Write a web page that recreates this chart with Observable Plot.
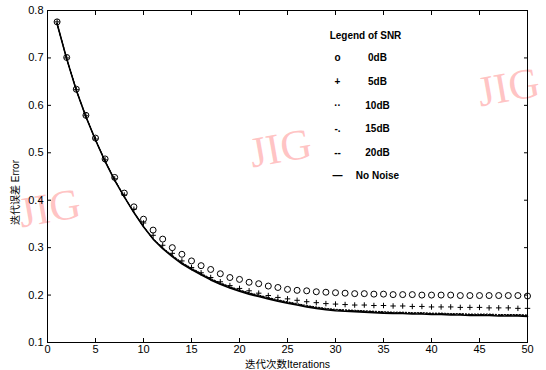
<!DOCTYPE html>
<html><head><meta charset="utf-8">
<script src="https://cdn.jsdelivr.net/npm/d3@7"></script>
<script src="https://cdn.jsdelivr.net/npm/@observablehq/plot@0.6"></script>
<style>body{margin:0;background:#fff}</style>
</head><body><div id="chart"></div>
<script>
const iterations = [1,2,3,4,5,6,7,8,9,10,11,12,13,14,15,16,17,18,19,20,21,22,23,24,25,26,27,28,29,30,31,32,33,34,35,36,37,38,39,40,41,42,43,44,45,46,47,48,49,50];
const snr0dB = [0.776,0.701,0.634,0.579,0.531,0.487,0.448,0.415,0.386,0.360,0.337,0.318,0.300,0.286,0.272,0.262,0.254,0.245,0.237,0.233,0.227,0.224,0.219,0.216,0.212,0.210,0.209,0.207,0.206,0.205,0.204,0.203,0.203,0.202,0.202,0.201,0.201,0.201,0.200,0.200,0.200,0.200,0.199,0.199,0.199,0.199,0.199,0.199,0.199,0.198];
const snr5dB = [0.776,0.700,0.633,0.578,0.529,0.485,0.445,0.411,0.381,0.352,0.326,0.305,0.288,0.272,0.258,0.247,0.237,0.228,0.220,0.214,0.209,0.204,0.199,0.195,0.192,0.189,0.186,0.184,0.182,0.181,0.180,0.179,0.179,0.178,0.178,0.177,0.177,0.176,0.176,0.175,0.175,0.175,0.174,0.174,0.174,0.173,0.173,0.173,0.172,0.172];
const snr10dB = [0.773,0.699,0.633,0.577,0.528,0.483,0.443,0.408,0.375,0.345,0.319,0.300,0.284,0.269,0.257,0.246,0.235,0.226,0.218,0.211,0.205,0.200,0.195,0.190,0.186,0.182,0.178,0.175,0.172,0.170,0.169,0.168,0.167,0.166,0.165,0.164,0.164,0.163,0.163,0.162,0.162,0.161,0.161,0.160,0.160,0.160,0.159,0.159,0.159,0.158];
const snr15dB = [0.772,0.698,0.632,0.576,0.527,0.482,0.443,0.407,0.374,0.344,0.318,0.299,0.283,0.268,0.256,0.245,0.234,0.225,0.217,0.210,0.204,0.199,0.194,0.189,0.185,0.181,0.177,0.174,0.171,0.169,0.168,0.167,0.166,0.165,0.164,0.163,0.163,0.162,0.162,0.161,0.161,0.160,0.160,0.159,0.159,0.159,0.158,0.158,0.158,0.157];
const snr20dB = [0.772,0.698,0.632,0.576,0.527,0.482,0.442,0.407,0.374,0.344,0.318,0.298,0.282,0.267,0.255,0.244,0.233,0.224,0.216,0.209,0.203,0.198,0.193,0.188,0.184,0.180,0.176,0.173,0.170,0.168,0.167,0.166,0.165,0.164,0.163,0.162,0.162,0.161,0.161,0.160,0.160,0.159,0.159,0.158,0.158,0.158,0.157,0.157,0.157,0.156];
const noNoise = [0.772,0.698,0.632,0.576,0.527,0.482,0.442,0.407,0.374,0.344,0.318,0.298,0.281,0.266,0.254,0.243,0.232,0.223,0.215,0.208,0.202,0.197,0.192,0.187,0.183,0.179,0.175,0.172,0.169,0.167,0.166,0.165,0.164,0.163,0.162,0.161,0.161,0.160,0.160,0.159,0.159,0.158,0.158,0.157,0.157,0.157,0.156,0.156,0.156,0.155];
const xTicks = [0,5,10,15,20,25,30,35,40,45,50];
const yTicks = [0.1,0.2,0.3,0.4,0.5,0.6,0.7,0.8];
const legendTitle = "Legend of SNR";
const legendSymbols = ["o","+","··","-.","--","—"];
const legendLabels = ["0dB","5dB","10dB","15dB","20dB","No Noise"];
const xLabel = "迭代次数Iterations";
const yLabel = "迭代误差 Error";
const watermark = "JIG";

const rows = vals => iterations.map((x, i) => ({x, y: vals[i]}));
const font = "'Liberation Sans', Arial, 'Noto Sans CJK SC', sans-serif";

const wm = [[233,138],[461,77],[2,198]].map(([dx,dy]) =>
  Plot.text([watermark], {frameAnchor:"top-left", dx, dy, fontSize:43, fontFamily:"'Liberation Serif', serif",
    fill:"#ff9c9c", fillOpacity:0.6, rotate:-10, textAnchor:"middle", lineAnchor:"middle"}));

const legendRowsDy = [47,71,95,118,142,165];
const legendMarks = [
  Plot.text([legendTitle], {frameAnchor:"top-left", dx:318, dy:25, fontSize:10, fontWeight:"bold", textAnchor:"middle", lineAnchor:"middle"}),
  ...legendSymbols.map((s,i) => Plot.text([s], {frameAnchor:"top-left", dx:290, dy:legendRowsDy[i], fontSize:10, fontWeight:"bold", textAnchor:"middle", lineAnchor:"middle"})),
  ...legendLabels.map((s,i) => Plot.text([s], {frameAnchor:"top-left", dx:330, dy:legendRowsDy[i], fontSize:10, fontWeight:"bold", textAnchor:"middle", lineAnchor:"middle"}))
];

const chart = Plot.plot({
  width:546, height:370, marginLeft:47, marginRight:19, marginTop:10, marginBottom:28,
  x:{domain:[0,50]}, y:{domain:[0.1,0.8]},
  style:{fontFamily:font, fontSize:"11px", color:"black", background:"white"},
  marks:[
    ...wm,
    Plot.frame({stroke:"black", strokeWidth:1}),
    Plot.axisX({anchor:"bottom", ticks:xTicks, tickSize:-4, tickPadding:7, label:null, tickFormat:d => String(d), fontSize:11}),
    Plot.axisX({anchor:"top", ticks:xTicks, tickSize:-4, tickFormat:() => "", label:null}),
    Plot.axisY({anchor:"left", ticks:yTicks, tickSize:-4, tickPadding:8, label:null, tickFormat:d => d.toFixed(1), fontSize:11}),
    Plot.axisY({anchor:"right", ticks:yTicks, tickSize:-4, tickFormat:() => "", label:null}),
    Plot.line(rows(snr10dB), {x:"x", y:"y", stroke:"black", strokeWidth:1, strokeDasharray:"1,2"}),
    Plot.line(rows(snr15dB), {x:"x", y:"y", stroke:"black", strokeWidth:1, strokeDasharray:"5,2,1,2"}),
    Plot.line(rows(snr20dB), {x:"x", y:"y", stroke:"black", strokeWidth:1, strokeDasharray:"5,3"}),
    Plot.line(rows(noNoise), {x:"x", y:"y", stroke:"black", strokeWidth:1.6}),
    Plot.dot(rows(snr0dB), {x:"x", y:"y", symbol:"circle", r:3, stroke:"black", strokeWidth:1, fill:"none"}),
    Plot.dot(rows(snr5dB), {x:"x", y:"y", symbol:"plus", r:1.9, stroke:"black", strokeWidth:1}),
    ...legendMarks,
    Plot.text([xLabel], {frameAnchor:"bottom", dy:22, fontSize:10.5, textAnchor:"middle", lineAnchor:"middle"}),
    Plot.text([yLabel], {frameAnchor:"left", dx:-32, dy:16, fontSize:10, rotate:-90, textAnchor:"middle", lineAnchor:"middle"})
  ]
});
document.getElementById("chart").appendChild(chart);
</script>
</body></html>
